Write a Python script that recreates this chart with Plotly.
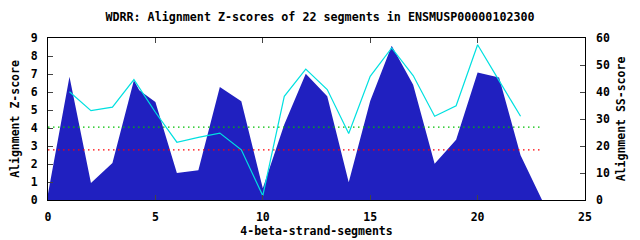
import plotly.graph_objects as go

# Z-score profile (filled area), vertices
z_x = [0, 1, 2, 3, 4, 4.25, 5, 6, 7, 8, 9, 10, 11, 12, 13, 14, 15, 16, 17, 18, 19, 20, 21, 22, 23]
z_y = [0.35, 6.85, 0.95, 2.05, 6.65, 6.1, 5.45, 1.5, 1.65, 6.28, 5.48, 0.65, 4.2, 7.02, 5.76, 0.98,
       5.5, 8.57, 6.4, 2.02, 3.35, 7.09, 6.81, 2.48, 0.0]

# SS-score per segment (right axis)
ss_x = list(range(1, 23))
ss_y = [40.1, 33.1, 34.4, 44.6, 32.5, 21.4, 23.2, 24.8, 18.6, 1.6, 38.4, 48.5, 40.9, 24.6,
        45.8, 56.3, 46.1, 31.0, 34.9, 57.5, 44.2, 31.0]

# threshold lines (Z-score units)
thr_x = [0, 23]
thr_green = 4.05
thr_red = 2.78

title = "WDRR: Alignment Z-scores of 22 segments in ENSMUSP00000102300"
FONT = "DejaVu Sans Mono"
F = dict(family=FONT, size=11.5, color="black", weight="bold")

fig = go.Figure()
fig.add_trace(go.Scatter(x=z_x, y=z_y, mode="lines", fill="tozeroy",
                         line=dict(width=0, color="#2020c0"), fillcolor="#2020c0",
                         showlegend=False, hoverinfo="skip"))
fig.add_trace(go.Scatter(x=thr_x, y=[thr_green] * 2, mode="lines",
                         line=dict(color="#00c000", width=1.3, dash="1.5px,3.5px"), showlegend=False))
fig.add_trace(go.Scatter(x=thr_x, y=[thr_red] * 2, mode="lines",
                         line=dict(color="#ff0000", width=1.3, dash="1.5px,3.5px"), showlegend=False))
fig.add_trace(go.Scatter(x=ss_x, y=ss_y, mode="lines", yaxis="y2",
                         line=dict(color="#00e0e0", width=1.2), showlegend=False))

fig.update_layout(
    width=640, height=240,
    margin=dict(l=48, r=55, t=38, b=40, autoexpand=False),
    paper_bgcolor="white", plot_bgcolor="white",
    font=F,
    title=dict(text=title, x=0.5, xanchor="center", y=0.93, yanchor="middle",
               font=dict(F, size=11.7)),
    xaxis=dict(range=[0, 25], tickvals=[0, 5, 10, 15, 20, 25], ticks="inside", ticklen=5,
               showline=True, linecolor="black", linewidth=1, mirror="ticks",
               showgrid=False, zeroline=False, ticklabelstandoff=6, tickfont=F,
               automargin=False,
               title=dict(text="4-beta-strand-segments", standoff=4, font=F)),
    yaxis=dict(range=[0, 9], tickvals=list(range(10)), ticks="inside", ticklen=5,
               showline=True, linecolor="black", linewidth=1, mirror=True,
               showgrid=False, zeroline=False, ticklabelstandoff=7, tickfont=F,
               automargin=False,
               title=dict(text="Alignment Z-score", standoff=8, font=F)),
    yaxis2=dict(range=[0, 60], tickvals=[0, 10, 20, 30, 40, 50, 60], ticks="inside", ticklen=5,
                overlaying="y", side="right", showline=False,
                showgrid=False, zeroline=False, ticklabelstandoff=10, tickfont=F,
                automargin=False,
                title=dict(text="Alignment SS-score", standoff=8, font=F)),
)

fig.write_html("out.html")
